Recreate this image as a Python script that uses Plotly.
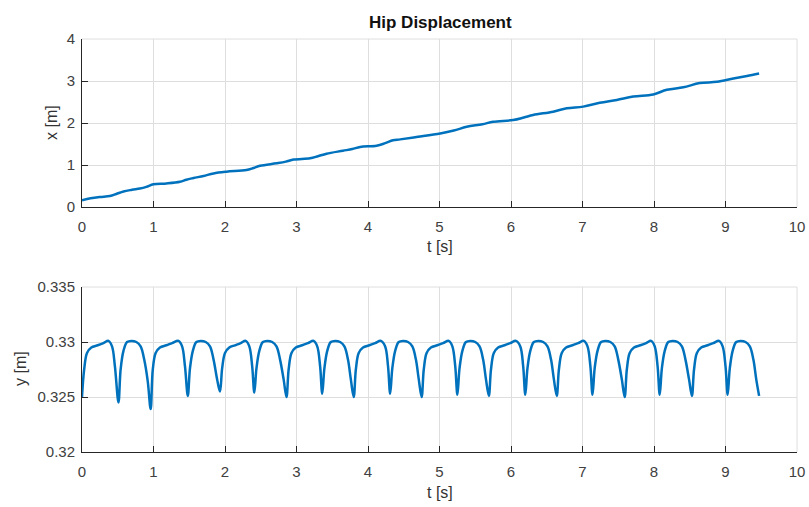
import plotly.graph_objects as go

# Hip forward displacement x(t)
t_x = [0.00, 0.12, 0.25, 0.39, 0.48, 0.58, 0.70, 0.81, 0.90, 1.00, 1.18, 1.37, 1.46, 1.56,
       1.70, 1.84, 2.02, 2.30, 2.40, 2.49, 2.72, 2.85, 2.96, 3.19, 3.30, 3.42, 3.65, 3.78,
       3.89, 4.12, 4.24, 4.35, 4.45, 4.70, 5.01, 5.20, 5.38, 5.60, 5.75, 6.03, 6.18, 6.31,
       6.59, 6.78, 7.01, 7.24, 7.48, 7.71, 7.99, 8.18, 8.41, 8.64, 8.88, 9.11, 9.30, 9.47]
x_hip = [0.16, 0.21, 0.24, 0.26, 0.31, 0.37, 0.41, 0.44, 0.48, 0.54, 0.56, 0.60, 0.65, 0.69,
         0.74, 0.80, 0.84, 0.88, 0.93, 0.98, 1.04, 1.08, 1.13, 1.16, 1.21, 1.27, 1.34, 1.38,
         1.43, 1.46, 1.52, 1.59, 1.61, 1.67, 1.75, 1.82, 1.91, 1.97, 2.03, 2.07, 2.13, 2.19,
         2.27, 2.35, 2.39, 2.48, 2.55, 2.63, 2.68, 2.79, 2.85, 2.95, 2.98, 3.06, 3.12, 3.18]

# Hip vertical displacement y(t)
t_y = [
    0.00, 0.03, 0.07, 0.13, 0.22, 0.30, 0.37, 0.42, 0.46,
    0.51, 0.54, 0.58, 0.63, 0.69, 0.76, 0.82, 0.87, 0.92,
    0.96, 0.99, 1.03, 1.09, 1.18, 1.26, 1.35, 1.40, 1.44,
    1.48, 1.51, 1.55, 1.60, 1.66, 1.73, 1.79, 1.84, 1.89,
    1.93, 1.96, 2.00, 2.06, 2.14, 2.22, 2.29, 2.34, 2.38,
    2.41, 2.44, 2.48, 2.53, 2.59, 2.66, 2.72, 2.77, 2.82,
    2.86, 2.89, 2.93, 2.99, 3.08, 3.16, 3.24, 3.29, 3.33,
    3.36, 3.39, 3.43, 3.48, 3.54, 3.61, 3.67, 3.72, 3.76,
    3.80, 3.83, 3.87, 3.93, 4.02, 4.10, 4.18, 4.24, 4.28,
    4.31, 4.34, 4.38, 4.43, 4.49, 4.56, 4.62, 4.67, 4.71,
    4.75, 4.78, 4.82, 4.88, 4.97, 5.05, 5.13, 5.18, 5.22,
    5.25, 5.28, 5.32, 5.37, 5.43, 5.50, 5.56, 5.61, 5.65,
    5.69, 5.72, 5.76, 5.82, 5.91, 5.99, 6.07, 6.13, 6.17,
    6.20, 6.23, 6.27, 6.32, 6.38, 6.45, 6.51, 6.56, 6.60,
    6.64, 6.67, 6.71, 6.77, 6.86, 6.94, 7.02, 7.07, 7.11,
    7.14, 7.17, 7.21, 7.26, 7.32, 7.39, 7.45, 7.50, 7.55,
    7.59, 7.62, 7.66, 7.72, 7.81, 7.89, 7.96, 8.01, 8.05,
    8.08, 8.11, 8.15, 8.20, 8.26, 8.33, 8.39, 8.44, 8.49,
    8.53, 8.56, 8.60, 8.66, 8.75, 8.83, 8.91, 8.96, 9.00,
    9.03, 9.06, 9.10, 9.15, 9.21, 9.28, 9.34, 9.39, 9.43,
    9.47,
]
y_hip = [
    0.3250, 0.3275, 0.3290, 0.3295, 0.3297, 0.3299, 0.3301, 0.3296, 0.3278,
    0.3245, 0.3275, 0.3292, 0.3300, 0.3301, 0.3300, 0.3296, 0.3284, 0.3264,
    0.3239, 0.3275, 0.3290, 0.3295, 0.3297, 0.3299, 0.3301, 0.3296, 0.3278,
    0.3251, 0.3276, 0.3292, 0.3300, 0.3301, 0.3300, 0.3296, 0.3284, 0.3266,
    0.3255, 0.3276, 0.3290, 0.3295, 0.3297, 0.3299, 0.3301, 0.3296, 0.3278,
    0.3254, 0.3276, 0.3292, 0.3300, 0.3301, 0.3300, 0.3296, 0.3284, 0.3266,
    0.3250, 0.3275, 0.3290, 0.3295, 0.3297, 0.3299, 0.3301, 0.3296, 0.3278,
    0.3253, 0.3276, 0.3292, 0.3300, 0.3301, 0.3300, 0.3296, 0.3284, 0.3266,
    0.3250, 0.3275, 0.3290, 0.3295, 0.3297, 0.3299, 0.3301, 0.3296, 0.3278,
    0.3253, 0.3276, 0.3292, 0.3300, 0.3301, 0.3300, 0.3296, 0.3284, 0.3266,
    0.3250, 0.3275, 0.3290, 0.3295, 0.3297, 0.3299, 0.3301, 0.3296, 0.3278,
    0.3252, 0.3276, 0.3292, 0.3300, 0.3301, 0.3300, 0.3296, 0.3284, 0.3266,
    0.3251, 0.3275, 0.3290, 0.3295, 0.3297, 0.3299, 0.3301, 0.3296, 0.3278,
    0.3252, 0.3276, 0.3292, 0.3300, 0.3301, 0.3300, 0.3296, 0.3284, 0.3266,
    0.3251, 0.3275, 0.3290, 0.3295, 0.3297, 0.3299, 0.3301, 0.3296, 0.3278,
    0.3252, 0.3276, 0.3292, 0.3300, 0.3301, 0.3300, 0.3296, 0.3284, 0.3266,
    0.3250, 0.3275, 0.3290, 0.3295, 0.3297, 0.3299, 0.3301, 0.3296, 0.3278,
    0.3252, 0.3276, 0.3292, 0.3300, 0.3301, 0.3300, 0.3296, 0.3284, 0.3266,
    0.3251, 0.3275, 0.3290, 0.3295, 0.3297, 0.3299, 0.3301, 0.3296, 0.3278,
    0.3252, 0.3276, 0.3292, 0.3300, 0.3301, 0.3300, 0.3296, 0.3284, 0.3266,
    0.3251,
]

t_ticks = list(range(0, 11))
x_ticks = [0, 1, 2, 3, 4]
y_ticks = [0.32, 0.325, 0.33, 0.335]
y_tick_text = ["0.32", "0.325", "0.33", "0.335"]

LINE_BLUE = "#0072BD"
AXIS_DARK = "#262626"
GRID = "#dedede"
FONT = "Liberation Sans, Arial, sans-serif"

W, H = 809, 507
ML, MR, MT, MB = 82, 12, 39, 55
plot_h = H - MT - MB
top_bottom_px = 207
bot_top_px = 287


def ydom(px):
    return (H - MB - px) / plot_h


fig = go.Figure()
fig.add_trace(go.Scatter(x=t_x, y=x_hip, mode="lines", line=dict(color=LINE_BLUE, width=2.5, shape="spline"),
                         xaxis="x", yaxis="y", showlegend=False))
fig.add_trace(go.Scatter(x=t_y, y=y_hip, mode="lines", line=dict(color=LINE_BLUE, width=2.5, shape="spline"),
                         xaxis="x2", yaxis="y2", showlegend=False))

tick_font = dict(family=FONT, size=15, color="#404040")
common_x = dict(range=[0, 10], tickvals=t_ticks, showgrid=True, gridcolor=GRID, gridwidth=1,
                showline=True, linecolor=AXIS_DARK, linewidth=1, ticks="inside", ticklen=6,
                tickcolor=AXIS_DARK, tickfont=tick_font,
                zeroline=False, ticklabelstandoff=6, fixedrange=True, automargin=False)
common_y = dict(showgrid=True, gridcolor=GRID, gridwidth=1, showline=True, linecolor=AXIS_DARK,
                linewidth=1, ticks="inside", ticklen=6, tickcolor=AXIS_DARK,
                tickfont=tick_font, zeroline=False,
                ticklabelstandoff=3, fixedrange=True, automargin=False)

fig.update_layout(
    width=W, height=H,
    margin=dict(l=ML, r=MR, t=MT, b=MB, autoexpand=False),
    paper_bgcolor="white", plot_bgcolor="white",
    xaxis=dict(common_x, domain=[0, 1], anchor="y"),
    yaxis=dict(common_y, domain=[ydom(top_bottom_px), 1], range=[0, 4], tickvals=x_ticks, anchor="x"),
    xaxis2=dict(common_x, domain=[0, 1], anchor="y2"),
    yaxis2=dict(common_y, domain=[0, ydom(bot_top_px)], range=[0.32, 0.335], tickvals=y_ticks,
                ticktext=y_tick_text, anchor="x2"),
)

# box edges on top/right drawn as light grid-coloured borders
for yref, xref in (("y domain", "x domain"), ("y2 domain", "x2 domain")):
    fig.add_shape(type="line", xref=xref, yref=yref, x0=0, x1=1, y0=1, y1=1,
                  line=dict(color=GRID, width=1))
    fig.add_shape(type="line", xref=xref, yref=yref, x0=1, x1=1, y0=0, y1=1,
                  line=dict(color=GRID, width=1))

text_font = dict(family=FONT, size=16, color="#333333")


def px_x(px):
    return (px - ML) / (W - ML - MR)


def px_y(px):
    return (H - MB - px) / plot_h


annotations = [
    dict(text="<b>Hip Displacement</b>", x=px_x(440), y=px_y(22),
         font=dict(family=FONT, size=17, color="#111111")),
    dict(text="t [s]", x=px_x(440), y=px_y(246), font=text_font),
    dict(text="t [s]", x=px_x(440), y=px_y(493), font=text_font),
    dict(text="x [m]", x=px_x(51), y=px_y(123), textangle=-90, font=text_font),
    dict(text="y [m]", x=px_x(20), y=px_y(369), textangle=-90, font=text_font),
]
for a in annotations:
    fig.add_annotation(xref="paper", yref="paper", showarrow=False, xanchor="center",
                       yanchor="middle", **a)

fig.write_html("out.html")
